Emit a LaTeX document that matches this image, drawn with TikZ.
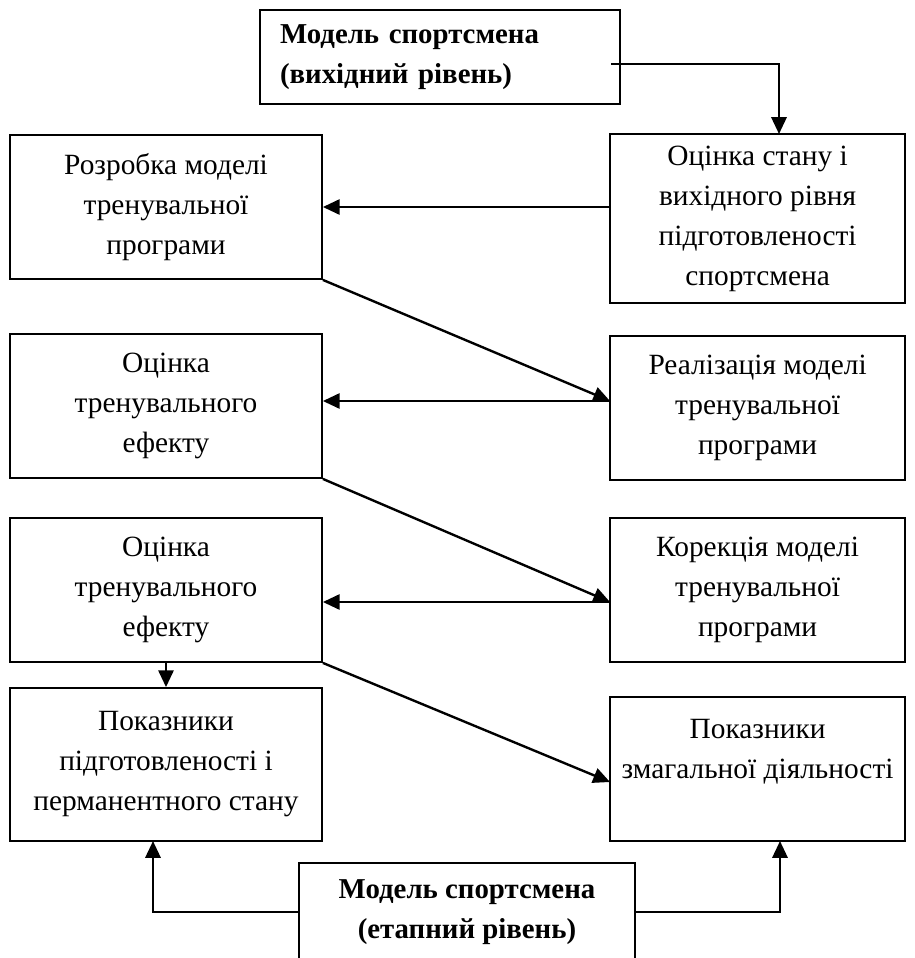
\documentclass[tikz,border=0pt]{standalone}
\usepackage{fontspec}
\setmainfont{Liberation Serif}
\usetikzlibrary{positioning,arrows.meta}
\tikzset{
  blk/.style={draw,line width=1.3pt,align=center,inner sep=0pt,
    font=\fontsize{20.9}{28.45}\selectfont},
  bold/.style={font=\fontsize{20.5}{28.45}\selectfont\bfseries},
  con/.style={line width=1.7pt},
}
\newcommand{\lbox}[4]{% y, name, height, text   (left column, 7.8 cm wide)
  \node[blk,minimum width=7.8cm,minimum height=#3cm] (#2) at (4.15,#1) {#4};}
\newcommand{\rbox}[4]{% right column, 7.375 cm wide
  \node[blk,minimum width=7.375cm,minimum height=#3cm] (#2) at (18.94,#1) {#4};}

\begin{document}
\begin{tikzpicture}[>={Triangle[length=0.42cm,width=0.38cm]}]
  \useasboundingbox (0,0) rectangle (22.875,-23.95);
  % ---- models of the athlete ----
  \node[blk,bold,minimum width=9cm,minimum height=2.35cm,text width=8cm,align=left]
    (start) at (11,-1.425) {Модель спортсмена\\(вихідний рівень)};
  \node[blk,bold,minimum width=8.4cm,minimum height=2.45cm]
    (stage) at (11.675,-22.8) {Модель спортсмена\\(етапний рівень)};
  % ---- left column ----
  \lbox{-5.175}{devel}{3.6}{Розробка моделі\\тренувальної\\програми}
  \lbox{-10.15}{effa}{3.6}{Оцінка\\тренувального\\ефекту}
  \lbox{-14.75}{effb}{3.6}{Оцінка\\тренувального\\ефекту}
  \lbox{-19.1125}{prep}{3.825}{Показники\\підготовленості і\\перманентного стану}
  % ---- right column ----
  \rbox{-5.4625}{state}{4.225}{Оцінка стану і\\вихідного рівня\\підготовленості\\спортсмена}
  \rbox{-10.2}{real}{3.6}{Реалізація моделі\\тренувальної\\програми}
  \rbox{-14.75}{corr}{3.6}{Корекція моделі\\тренувальної\\програми}
  \rbox{-19.225}{comp}{3.6}{Показники\\змагальної діяльності\\\mbox{}}
  % end points on the boxes
  \coordinate (s1) at (15.275,-1.6);
  \coordinate (s2) at (19.475,-3.35);
  \coordinate (m2) at (15.25,-10.025);
  \coordinate (m3) at (15.25,-15.05);
  \coordinate (m4) at (15.25,-19.55);
  \coordinate (b1) at (3.825,-21.025);
  \coordinate (b2) at (19.5,-21.025);
  % ---- connectors ----
  \draw[con,->] (s1) -| (s2);
  \draw[con,->] (state.west |- devel.east) -- (devel.east);
  \draw[con,->] (devel.south east) -- (m2);
  \draw[con,->] (m2) -- (m2 -| effa.east);
  \draw[con,->] (effa.south east) -- (m3);
  \draw[con,->] (m3) -- (m3 -| effb.east);
  \draw[con,->] (effb.south east) -- (m4);
  \draw[con,->] (effb.south) -- (prep.north);
  \draw[con,->] (stage.west) -| (b1);
  \draw[con,->] (stage.east) -| (b2);
\end{tikzpicture}
\end{document}
